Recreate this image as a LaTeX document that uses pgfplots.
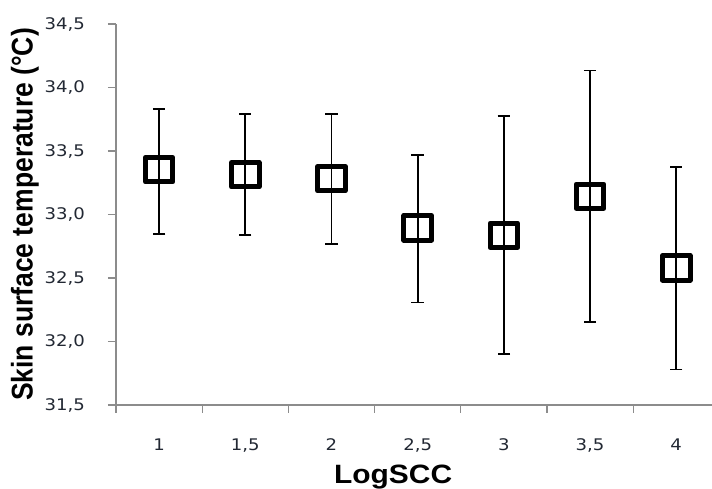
\documentclass[border=0pt]{standalone}
\usepackage{pgfplots}
\pgfplotsset{compat=1.18}
\usepackage{fontspec}
\setmainfont{DejaVu Sans}
\newfontfamily\labelfont{Liberation Sans}
\definecolor{axisgray}{HTML}{8C8C8C}
\definecolor{ticktext}{HTML}{222833}

\begin{document}
\begin{tikzpicture}
\useasboundingbox (-116pt,-84pt) rectangle (596pt,405pt);
\begin{axis}[
    at={(0pt,0pt)}, anchor=south west,
    scale only axis,
    width=596pt, height=381pt,
    xmin=0.5, xmax=7.415,
    ymin=31.5, ymax=34.5,
    axis lines*=left,
    axis line style={draw=axisgray, line width=1.1pt},
    tick align=outside,
    tick pos=left,
    xtick={1,2,3,4,5,6,7},
    xticklabels={1,{1,5},2,{2,5},3,{3,5},4},
    major x tick style={draw=none},
    minor xtick={0.5,1.5,2.5,3.5,4.5,5.5,6.5},
    minor x tick style={draw=axisgray, line width=1.1pt},
    minor tick length=8pt,
    ytick={31.5,32,32.5,33,33.5,34,34.5},
    yticklabels={{31,5},{32,0},{32,5},{33,0},{33,5},{34,0},{34,5}},
    major y tick style={draw=axisgray, line width=1.1pt},
    major tick length=8pt,
    ticklabel style={font=\fontsize{16}{19}\selectfont, text=ticktext, xscale=1.13},
    xticklabel style={yshift=-22pt},
    yticklabel style={xshift=-17pt},
    xlabel={LogSCC},
    ylabel={Skin surface temperature (°C)},
    label style={font=\labelfont\bfseries\fontsize{26.5}{30}\selectfont, text=black},
    xlabel style={at={(axis description cs:0.465,-0.205)}, anchor=base, xscale=1.13},
    ylabel style={at={(axis description cs:-0.1527,0.5)}, anchor=center, yscale=1.13},
    clip=false,
]
\addplot[
    only marks,
    mark=square,
    mark size=12.2pt,
    mark options={draw=black, line width=5pt, line join=round, xscale=1.13, solid},
    error bars/.cd,
        y dir=both, y explicit,
        error bar style={line width=1.7pt, black},
        error mark options={rotate=90, line width=1.7pt, mark size=6.2pt, black},
] coordinates {
    (1,33.353) += (0,0.477) -= (0,0.504)
    (2,33.313) += (0,0.476) -= (0,0.477)
    (3,33.282) += (0,0.507) -= (0,0.512)
    (4,32.895) += (0,0.571) -= (0,0.589)
    (5,32.836) += (0,0.937) -= (0,0.937)
    (6,33.144) += (0,0.991) -= (0,0.990)
    (7,32.580) += (0,0.794) -= (0,0.800)
};
\end{axis}
\end{tikzpicture}
\end{document}
